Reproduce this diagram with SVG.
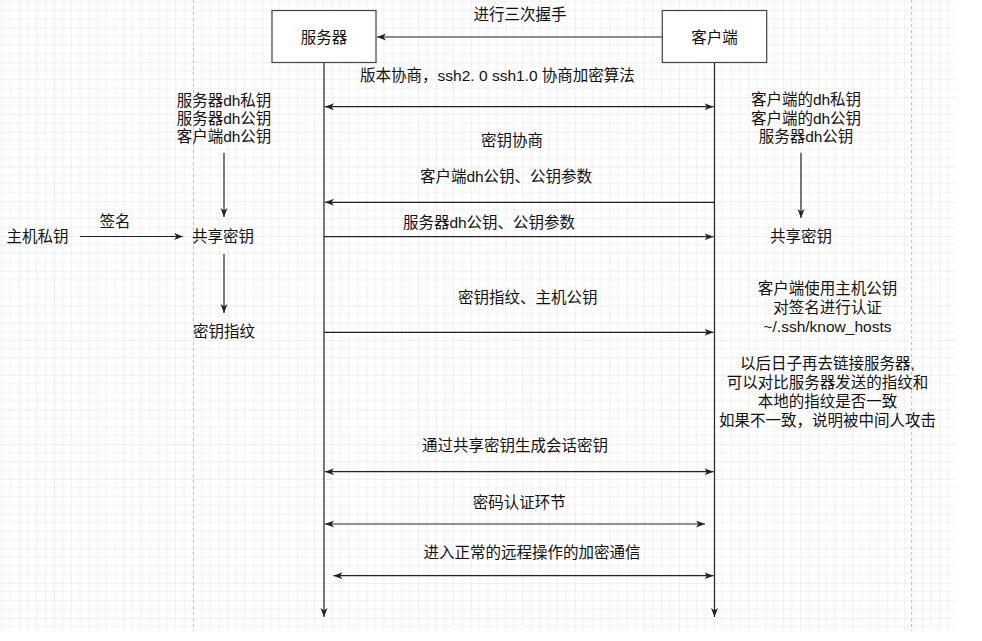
<svg xmlns="http://www.w3.org/2000/svg" width="982" height="641" viewBox="0 0 982 641">
<defs>
<pattern id="grid" patternUnits="userSpaceOnUse" x="19.3" y="62.3" width="34.72" height="34.72">
<rect x="0" y="0" width="34.72" height="34.72" fill="#ffffff"/>
<g fill="#f1f1f1">
<rect x="8.18" y="0" width="1" height="34.72"/>
<rect x="16.86" y="0" width="1" height="34.72"/>
<rect x="25.54" y="0" width="1" height="34.72"/>
<rect x="0" y="8.18" width="34.72" height="1"/>
<rect x="0" y="16.86" width="34.72" height="1"/>
<rect x="0" y="25.54" width="34.72" height="1"/>
</g>
<g fill="#e0e0e0">
<rect x="-0.5" y="0" width="1" height="34.72"/>
<rect x="0" y="-0.5" width="34.72" height="1"/>
</g>
</pattern>
<marker id="arr" markerUnits="userSpaceOnUse" markerWidth="10" markerHeight="8" refX="9" refY="3.5" orient="auto-start-reverse" viewBox="0 0 10 8">
<path d="M0,0 L9,3.5 L0,7 L2.5,3.5 Z" fill="#222"/>
</marker>
</defs>
<style>
text{font-family:"Liberation Sans","Noto Sans CJK SC",sans-serif;font-size:15.5px;fill:#111;text-anchor:middle;dominant-baseline:central}
.box{fill:#fff;stroke:#444;stroke-width:1.2}
.ln{stroke:#222;stroke-width:1.2;fill:none}
.e{marker-end:url(#arr)}
.s{marker-start:url(#arr)}
</style>
<rect x="0" y="0" width="956" height="631" fill="url(#grid)"/>
<line x1="193.5" y1="0" x2="193.5" y2="631" stroke="#c4c4c4" stroke-dasharray="3,3"/>
<line x1="911.5" y1="0" x2="911.5" y2="631" stroke="#c4c4c4" stroke-dasharray="3,3"/>

<g id="connectors">
<line class="ln e" x1="324" y1="62.5" x2="324" y2="617"/>
<line class="ln e" x1="714.5" y1="62.5" x2="714.5" y2="617"/>
<line class="ln e" x1="662" y1="37" x2="377" y2="37"/>
<line class="ln s e" x1="325" y1="106.7" x2="713.5" y2="106.7"/>
<line class="ln e" x1="714.5" y1="202.3" x2="325" y2="202.3"/>
<line class="ln e" x1="324" y1="236.7" x2="713.5" y2="236.7"/>
<line class="ln e" x1="324" y1="332.3" x2="713.5" y2="332.3"/>
<line class="ln s e" x1="325" y1="471.7" x2="713.5" y2="471.7"/>
<line class="ln s e" x1="325" y1="524" x2="705" y2="524"/>
<line class="ln s e" x1="333.5" y1="575.7" x2="713.5" y2="575.7"/>
<line class="ln e" x1="224" y1="152.7" x2="224" y2="217"/>
<line class="ln e" x1="224" y1="254" x2="224" y2="313"/>
<line class="ln e" x1="80" y1="236.5" x2="183" y2="236.5"/>
<line class="ln e" x1="801" y1="152.7" x2="801" y2="218"/>
</g>

<g id="server"><rect class="box" x="272" y="10.5" width="104" height="52"/><text x="324" y="37">服务器</text></g>
<g id="client"><rect class="box" x="662.3" y="10.5" width="104.4" height="52"/><text x="714.5" y="37">客户端</text></g>

<g id="label-handshake"><text x="520" y="14">进行三次握手</text></g>
<g id="label-version"><text x="497.5" y="75">版本协商，ssh2. 0 ssh1.0 协商加密算法</text></g>
<g id="label-keyneg"><text x="512" y="140">密钥协商</text></g>
<g id="label-client-dh"><text x="506" y="176">客户端dh公钥、公钥参数</text></g>
<g id="label-server-dh"><text x="489" y="222.3">服务器dh公钥、公钥参数</text></g>
<g id="label-fingerprint"><text x="527.7" y="297.7">密钥指纹、主机公钥</text></g>
<g id="label-session"><text x="515" y="445">通过共享密钥生成会话密钥</text></g>
<g id="label-password"><text x="519.3" y="502.7">密码认证环节</text></g>
<g id="label-comm"><text x="532" y="552.7">进入正常的远程操作的加密通信</text></g>

<g id="server-keys"><text x="224" y="100">服务器dh私钥</text><text x="224" y="118">服务器dh公钥</text><text x="224" y="136.5">客户端dh公钥</text></g>
<g id="server-shared"><text x="223" y="236.7">共享密钥</text></g>
<g id="server-fp"><text x="224" y="331.7">密钥指纹</text></g>
<g id="host-private"><text x="37.5" y="236.7">主机私钥</text></g>
<g id="label-sign"><text x="115" y="221.7">签名</text></g>

<g id="client-keys"><text x="806" y="99.5">客户端的dh私钥</text><text x="806" y="118">客户端的dh公钥</text><text x="806" y="136.5">服务器dh公钥</text></g>
<g id="client-shared"><text x="801" y="236.5">共享密钥</text></g>
<g id="client-verify"><text x="827.5" y="288.3">客户端使用主机公钥</text><text x="827.5" y="307.5">对签名进行认证</text><text x="827.5" y="326.7">~/.ssh/know_hosts</text></g>
<g id="client-note"><text x="827.5" y="363.3">以后日子再去链接服务器,</text><text x="827.5" y="382.5">可以对比服务器发送的指纹和</text><text x="827.5" y="401.7">本地的指纹是否一致</text><text x="827.5" y="420.7">如果不一致，说明被中间人攻击</text></g>
</svg>
